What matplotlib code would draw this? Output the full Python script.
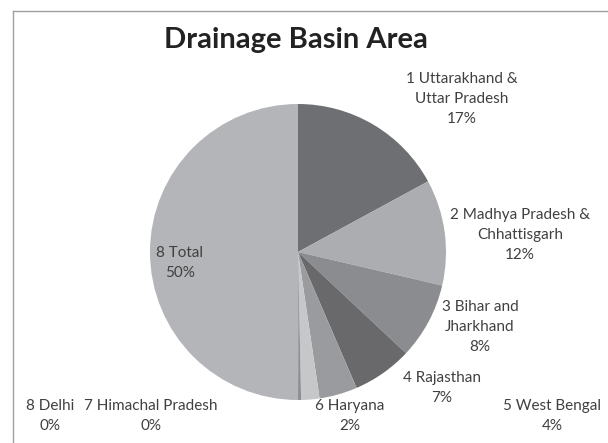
import matplotlib
matplotlib.use("Agg")
import matplotlib.pyplot as plt
from matplotlib.lines import Line2D

# Data (Ganges drainage basin area by state, with total)
categories = ["1 Uttarakhand &\nUttar Pradesh", "2 Madhya Pradesh &\nChhattisgarh",
              "3 Bihar and\nJharkhand", "4 Rajasthan", "5 West Bengal", "6 Haryana",
              "7 Himachal Pradesh", "8 Delhi", "8 Total"]
areas = [294364, 198962, 143961, 112490, 71485, 34341, 4317, 1484, 861404]
colors = ["#6e6f72", "#acadb0", "#8b8c8f", "#69696b", "#9a9b9e", "#c6c7c9",
          "#8d8e91", "#7b7c7f", "#b4b5b8"]

W, H = 608, 443
fig = plt.figure(figsize=(W / 100, H / 100), dpi=100)

# pie center and radius in pixels
cx, cy, r = 298, 252, 148
ax = fig.add_axes([(cx - r) / W, (H - cy - r) / H, 2 * r / W, 2 * r / H])
ax.pie(areas, colors=colors, startangle=90, counterclock=False,
       wedgeprops=dict(edgecolor="none"))
ax.set_xlim(-1, 1)
ax.set_ylim(-1, 1)
ax.set_aspect("equal")
ax.axis("off")

total = sum(areas)
# label centre positions in pixels (layout)
label_pos = [(462, 99), (520, 235), (480, 327), (442, 388), (552, 416),
             (350, 416), (151, 416), (50, 416), (180, 263)]
font = ["Lato", "DejaVu Sans"]
for name, val, (px, py) in zip(categories, areas, label_pos):
    pct = f"{round(100 * val / total):.0f}%"
    fig.text(px / W, 1 - py / H, f"{name}\n{pct}", ha="center", va="center",
             fontsize=11, color="#404040", family=font, linespacing=1.55)

fig.text(296 / W, 1 - 40 / H, "Drainage Basin Area", ha="center", va="center",
         fontsize=21, fontweight="bold", color="#222222", family=font)

# chart frame (top and left edges visible)
fig.add_artist(Line2D([13 / W, 1], [1 - 11 / H, 1 - 11 / H], transform=fig.transFigure,
                      color="#a0a0a0", lw=1))
fig.add_artist(Line2D([13 / W, 13 / W], [0, 1 - 11 / H], transform=fig.transFigure,
                      color="#a0a0a0", lw=1))

fig.savefig("out.png", dpi=100, facecolor="white")
